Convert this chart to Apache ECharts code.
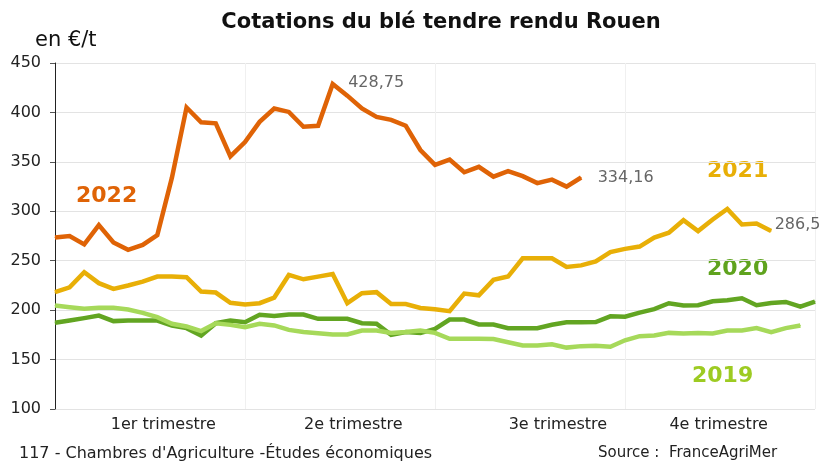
<!DOCTYPE html>
<html>
<head>
<meta charset="utf-8">
<script src="https://cdn.jsdelivr.net/npm/echarts@6/dist/echarts.min.js"></script>
<style>html,body{margin:0;padding:0;background:#fff;}#c{width:821px;height:462px;}</style>
</head>
<body>
<div id="c"></div>
<script>
// Weeks of the year (53 categories)
const weeks = Array.from({length: 53}, (_, i) => 'S' + (i + 1));
const quarterLabels = ['1er trimestre', '2e trimestre', '3e trimestre', '4e trimestre'];
const quarterLabelIdx = [7, 20, 34, 45];
const yTicks = [100, 150, 200, 250, 300, 350, 400, 450];

const y2022 = [273.5, 275, 266.5, 286, 268.5, 261, 266, 276, 334, 405, 390, 389, 355.5, 370, 390.5, 404, 400.5, 385.5, 386.5, 428.75, 417, 404, 395.5, 392.5, 386.5, 362, 347, 352.3, 339.5, 345, 335, 340.6, 335.5, 328.5, 332, 325, 334.16];
const y2021 = [218.2, 223, 238.4, 227.3, 221.5, 224.9, 228.9, 234, 234, 233.3, 218.8, 217.8, 207.4, 205.6, 207, 212.7, 235.6, 231.2, 233.9, 236.5, 207, 217.2, 218.2, 206.1, 206.1, 202.2, 200.8, 198.9, 216.8, 215, 230.6, 234, 252.5, 252.5, 252.5, 243.6, 245.3, 249.4, 258.8, 262, 264.3, 273.4, 278.4, 291, 280, 291.7, 302.4, 286.6, 287.6, 280];
const y2020 = [187.2, 189.5, 191.9, 194.5, 188.9, 189.5, 189.5, 189.5, 184.5, 181.8, 174.3, 186.8, 189.5, 187.8, 195.3, 194, 195.6, 195.6, 191.2, 191.2, 191.2, 186.8, 186.2, 175, 177.8, 176.8, 181, 190.5, 190.5, 185.5, 185.5, 181.8, 181.8, 181.8, 185.2, 187.8, 187.8, 188, 193.7, 193.4, 197.5, 201, 207, 204.6, 205, 209, 210, 212, 205, 207.2, 208.3, 203.5, 208.7];
const y2019 = [204.7, 203, 201.3, 202.3, 202.3, 200.6, 197.3, 192.9, 186.2, 183.5, 178.8, 186.8, 185.1, 182.8, 186.2, 184.5, 180, 177.8, 176.7, 175.4, 175.4, 179.4, 179.4, 176.8, 177.8, 179.4, 177, 171, 171, 171, 170.7, 167.5, 164.2, 164.2, 165.5, 162.1, 163.6, 164, 162.9, 169.5, 173.7, 174.3, 177, 176.4, 177, 176.4, 179.4, 179.4, 181.8, 177.8, 181.8, 184.5];

// value annotations: [index, text]
const annotations2022 = [[19, '428,75'], [36, '334,16']];
const annotations2021 = [[49, '286,5']];

const colors = {c2022: '#DF6306', c2021: '#E8AF07', c2020: '#62A522', c2019: '#A6D95A'};
const FONT = 'DejaVu Sans';

function withLabels(arr, ann, opts) {
  return arr.map((v, i) => {
    const a = ann.find(x => x[0] === i);
    if (!a) return v;
    return {value: v, label: Object.assign({show: true, formatter: a[1], color: '#666', fontSize: 16, fontFamily: FONT}, opts[i] || {})};
  });
}

const chart = echarts.init(document.getElementById('c'), null, {renderer: 'canvas'});
const lineSeries = (name, data, color, z) => ({
  name, type: 'line', data, z,
  symbol: 'circle', symbolSize: 1, showSymbol: true, showAllSymbol: true,
  lineStyle: {color, width: 4.5, join: 'miter'},
  itemStyle: {color},
  emphasis: {disabled: true}
});

chart.setOption({
  animation: false,
  backgroundColor: '#fff',
  textStyle: {fontFamily: FONT},
  title: {
    text: 'Cotations du blé tendre rendu Rouen',
    left: 436, top: 7, textAlign: 'center',
    textStyle: {fontFamily: FONT, fontWeight: 'bold', fontSize: 21, color: '#111'}
  },
  grid: {left: 55, right: 6, top: 63, bottom: 53, containLabel: false},
  xAxis: {
    type: 'category', data: weeks, boundaryGap: false,
    axisLine: {show: false},
    axisTick: {show: false},
    axisLabel: {
      interval: (idx) => quarterLabelIdx.includes(idx),
      formatter: (v, idx) => { const k = quarterLabelIdx.indexOf(idx); return k >= 0 ? quarterLabels[k] : ''; },
      color: '#222', fontSize: 16, fontFamily: FONT, margin: 8, padding: [0, 0, 0, 12]
    },
    splitLine: {show: true, interval: (idx) => idx % 13 === 0, lineStyle: {color: '#f0f0f0', width: 1}}
  },
  yAxis: {
    type: 'value', min: yTicks[0], max: yTicks[yTicks.length - 1], interval: 50,
    axisLine: {show: true, lineStyle: {color: '#222', width: 1}},
    axisTick: {show: true, length: 5, lineStyle: {color: '#555'}},
    axisLabel: {color: '#222', fontSize: 16, fontFamily: FONT, margin: 14},
    splitLine: {show: true, lineStyle: {color: '#e3e3e3', width: 1}}
  },
  graphic: [
    {type: 'text', left: 35, top: 30, style: {text: 'en €/t', fontSize: 21, fontFamily: FONT, fill: '#111'}},
    {type: 'text', left: 76, top: 185, style: {text: '2022', fontSize: 22, fontWeight: 'bold', fontFamily: FONT, fill: colors.c2022}},
    {type: 'text', left: 707, top: 160, style: {text: '2021', fontSize: 22, fontWeight: 'bold', fontFamily: FONT, fill: colors.c2021}},
    {type: 'text', left: 707, top: 258, style: {text: '2020', fontSize: 22, fontWeight: 'bold', fontFamily: FONT, fill: '#5FA31E'}},
    {type: 'text', left: 692, top: 365, style: {text: '2019', fontSize: 22, fontWeight: 'bold', fontFamily: FONT, fill: '#9DCB22'}},
    {type: 'text', left: 19, top: 446, style: {text: "117 - Chambres d'Agriculture -Études économiques", fontSize: 16, fontFamily: FONT, fill: '#222'}},
    {type: 'text', left: 598, top: 446, style: {text: 'Source :  FranceAgriMer', fontSize: 15, fontFamily: FONT, fill: '#222'}}
  ],
  series: [
    lineSeries('2020', y2020, colors.c2020, 2),
    lineSeries('2019', y2019, colors.c2019, 3),
    lineSeries('2021', withLabels(y2021, annotations2021, {49: {position: 'right', distance: 3, offset: [0, -6]}}), colors.c2021, 4),
    lineSeries('2022', withLabels(y2022, annotations2022, {19: {position: 'right', distance: 15, offset: [0, -1]}, 36: {position: 'right', distance: 16, offset: [0, 0]}}), colors.c2022, 5)
  ]
});
</script>
</body>
</html>
